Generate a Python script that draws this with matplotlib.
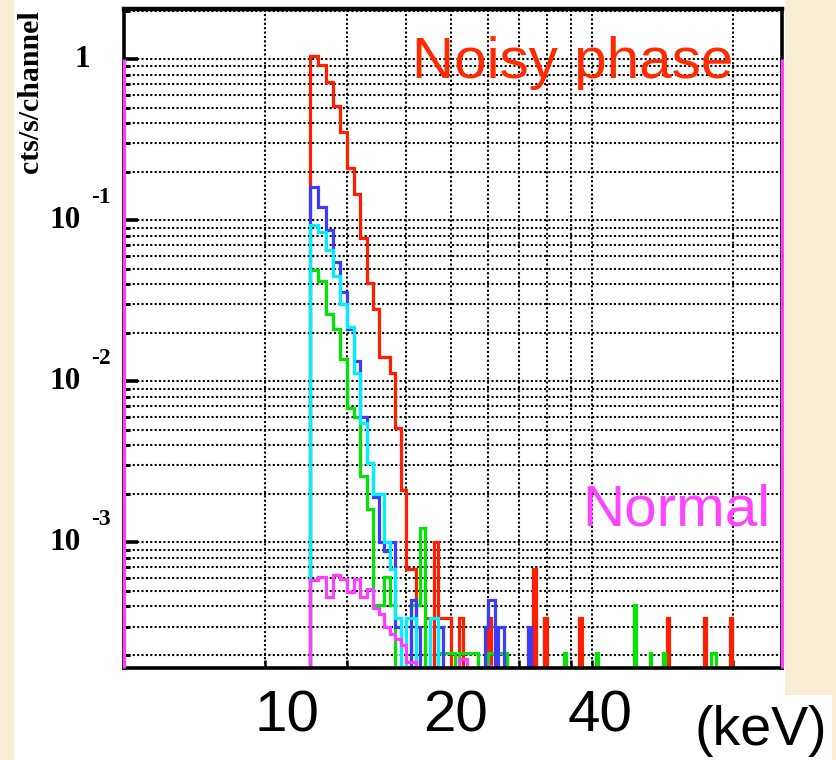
import numpy as np
import matplotlib
matplotlib.use("Agg")
import matplotlib.pyplot as plt
from matplotlib.patches import Rectangle

W, H = 837, 760

# ---- spectra: cts/s/channel in 0.5 keV channels starting at 12.5 keV ----
bin_lo = 12.5
bin_w = 0.5
n_bins = 178

# dense part of each spectrum, channel by channel from 12.5 keV
red_body = [1.05, 0.92, 0.72, 0.51, 0.355, 0.21, 0.146, 0.078, 0.041, 0.028,
            0.0142, 0.0142, 0.0112, 0.0051, 0.0021, 6.8e-4, 6.8e-4, 0, 0, 3.4e-4]
blue_body = [0.16, 0.12, 0.087, 0.055, 0.036, 0.021, 0.0134, 0.006, 0.0031, 0.0019,
             1.0e-3, 8.9e-4, 1.0e-3, 3.0e-4, 0, 0, 4.4e-4, 3.0e-4]
green_body = [0.049, 0.042, 0.026, 0.021, 0.0137, 0.0068, 0.006, 0.0026, 0.0016, 4.1e-4,
              4.1e-4, 6.1e-4, 4.1e-4, 0, 0, 0, 4.1e-4, 4.1e-4, 1.23e-3]
cyan_body = [0.093, 0.085, 0.065, 0.045, 0.030, 0.0216, 0.0112, 0.0055, 0.0031, 0.002,
             0.002, 1.0e-3, 6.8e-4, 3.4e-4, 0, 3.4e-4, 3.4e-4, 0, 0, 0, 3.4e-4, 3.4e-4]
magenta_body = [5.8e-4, 6.1e-4, 4.6e-4, 6.3e-4, 5.9e-4, 4.9e-4, 5.9e-4, 4.6e-4, 5.1e-4, 3.9e-4,
                3.6e-4, 3.0e-4, 2.7e-4, 2.5e-4, 2.3e-4, 1.8e-4, 1.8e-4]

# isolated channels further out: (channel start in keV, rate)
red_spike_kev = [23.0, 23.5, 24.0, 24.5, 26.0, 30.0, 37.5, 39.5, 47.0, 72.5, 87.0, 98.5, 99.0]
red_spike_val = [1.0e-3, 3.4e-4, 3.4e-4, 3.4e-4, 3.4e-4, 3.4e-4, 6.8e-4, 3.4e-4, 3.4e-4,
                 3.4e-4, 3.4e-4, 3.4e-4, 3.4e-4]
blue_spike_kev = [23.5, 29.5, 30.0, 30.5, 31.5, 32.0, 36.5]
blue_spike_val = [3.0e-4, 3.0e-4, 4.4e-4, 4.4e-4, 3.0e-4, 3.0e-4, 3.0e-4]
green_spike_kev = [23.5, 24.0, 24.5, 25.0, 26.0, 26.5, 27.0, 27.5, 28.0, 30.0, 30.5, 31.0,
                   31.5, 32.0, 32.5, 43.5, 51.0, 61.5, 66.5, 71.0, 90.0, 90.5, 91.0, 91.5]
green_spike_val = [2.05e-4] * 15 + [2.05e-4, 2.05e-4, 4.1e-4, 2.05e-4, 2.05e-4,
                                    2.05e-4, 2.05e-4, 2.05e-4, 2.05e-4]
magenta_spike_kev = [26.0, 26.5, 30.0]
magenta_spike_val = [1.9e-4, 1.9e-4, 1.7e-4]

# axis ranges and grid positions
x_range = (5.0, 127.4)
y_range = (1.66e-4, 2.045)
x_grid = [10, 15, 20, 25, 30, 35, 40, 45, 50, 100]
y_major = [1e-3, 1e-2, 1e-1, 1]
y_exponents = ["-3", "-2", "-1", None]

edges = bin_lo + bin_w * np.arange(n_bins + 1)


def spectrum(body, spike_kev, spike_val):
    v = np.zeros(n_bins)
    v[:len(body)] = body
    for e, val in zip(spike_kev, spike_val):
        v[int(round((e - bin_lo) / bin_w))] = val
    return v


series = [
    (spectrum(red_body, red_spike_kev, red_spike_val), "#ff1e00"),
    (spectrum(green_body, green_spike_kev, green_spike_val), "#00e600"),
    (spectrum(blue_body, blue_spike_kev, blue_spike_val), "#3c3cff"),
    (spectrum(cyan_body, [], []), "#00f0ff"),
    (spectrum(magenta_body, magenta_spike_kev, magenta_spike_val), "#ff3cff"),
]

fig = plt.figure(figsize=(W / 100, H / 100), dpi=100)
fig.patch.set_facecolor("#f8ecd5")
# white canvas and the white label box to its lower right
fig.patches.append(Rectangle((14 / W, 0), (785 - 14) / W, 1, transform=fig.transFigure,
                             facecolor="white", edgecolor="none", zorder=-10))
fig.patches.append(Rectangle((784 / W, 0), (832 - 784) / W, (760 - 695) / H,
                             transform=fig.transFigure, facecolor="white",
                             edgecolor="none", zorder=-10))

ax = fig.add_axes([124 / W, (H - 668) / H, (782 - 124) / W, (668 - 9) / H])
ax.set_facecolor("white")
ax.set_xscale("log")
ax.set_yscale("log")
ax.set_xlim(*x_range)
ax.set_ylim(*y_range)

floor = 1e-6
for vals, col in series:
    v = np.where(vals > 0, vals, floor)
    ax.stairs(v, edges, baseline=floor, color=col, lw=2.3, zorder=3)

# frame
for s in ax.spines.values():
    s.set_linewidth(2.6)
    s.set_color("black")
    s.set_zorder(5)
ax.spines["top"].set_linewidth(3.2)
# magenta outline along both sides below y = 1
for xe in x_range:
    ax.plot([xe, xe], [1, y_range[0]], color="#ff3cff", lw=2.2, zorder=6,
            clip_on=False, solid_capstyle="butt")

# ticks
ax.set_xticks(x_grid)
ax.xaxis.set_minor_locator(matplotlib.ticker.NullLocator())
ax.set_yticks(y_major)
ax.yaxis.set_minor_locator(matplotlib.ticker.LogLocator(base=10, subs=np.arange(2, 10)))
ax.tick_params(axis="x", which="major", direction="in", length=6, width=1.8,
               bottom=True, top=False, labelbottom=False)
ax.tick_params(axis="y", which="major", direction="in", length=10, width=2.6,
               left=True, right=False, labelleft=False)
ax.tick_params(axis="y", which="minor", direction="in", length=4, width=2.2,
               left=True, right=False, labelleft=False)

# dotted grid
dot = (0, (1.0, 1.1))
ax.grid(True, which="major", axis="x", color="black", lw=1.5, ls=dot, zorder=1)
ax.grid(True, which="both", axis="y", color="black", lw=1.5, ls=dot, zorder=1)
ax.set_axisbelow(True)


def fx(px):
    return px / W


def fy(py):
    return 1 - py / H


serif = dict(family="Liberation Serif", weight="bold", color="black")
# y tick labels: 1, 10^-1, 10^-2, 10^-3
for val, ex in zip(y_major, y_exponents):
    ypx = ax.transData.transform((x_range[0], val))[1]
    yfig = ypx / H
    if ex is None:
        fig.text(fx(90), yfig, "1", ha="right", va="center", fontsize=22.5, **serif)
    else:
        fig.text(fx(81), yfig, "10", ha="right", va="center", fontsize=22.5, **serif)
        fig.text(fx(91), yfig + 23 / H, ex, ha="left", va="center", fontsize=17, **serif)

fig.text(fx(31), fy(92), "cts/s/channel", rotation=90, ha="center", va="center",
         fontsize=21.5, **serif)

sans = dict(family="Liberation Sans")
fig.text(fx(412), fy(78), "Noisy phase", ha="left", va="baseline", fontsize=42,
         color="#ff2a00", **sans)
fig.text(fx(582), fy(525), "Normal", ha="left", va="baseline", fontsize=42,
         color="#ff44ff", **sans)

for lab, cx in [("10", 287), ("20", 456), ("40", 600)]:
    fig.text(fx(cx), fy(732), lab, ha="center", va="baseline", fontsize=42,
             color="black", **sans)
fig.text(fx(827), fy(745), "(keV)", ha="right", va="baseline", fontsize=40,
         color="black", **sans)

fig.savefig("out.png", dpi=100, facecolor=fig.get_facecolor())
